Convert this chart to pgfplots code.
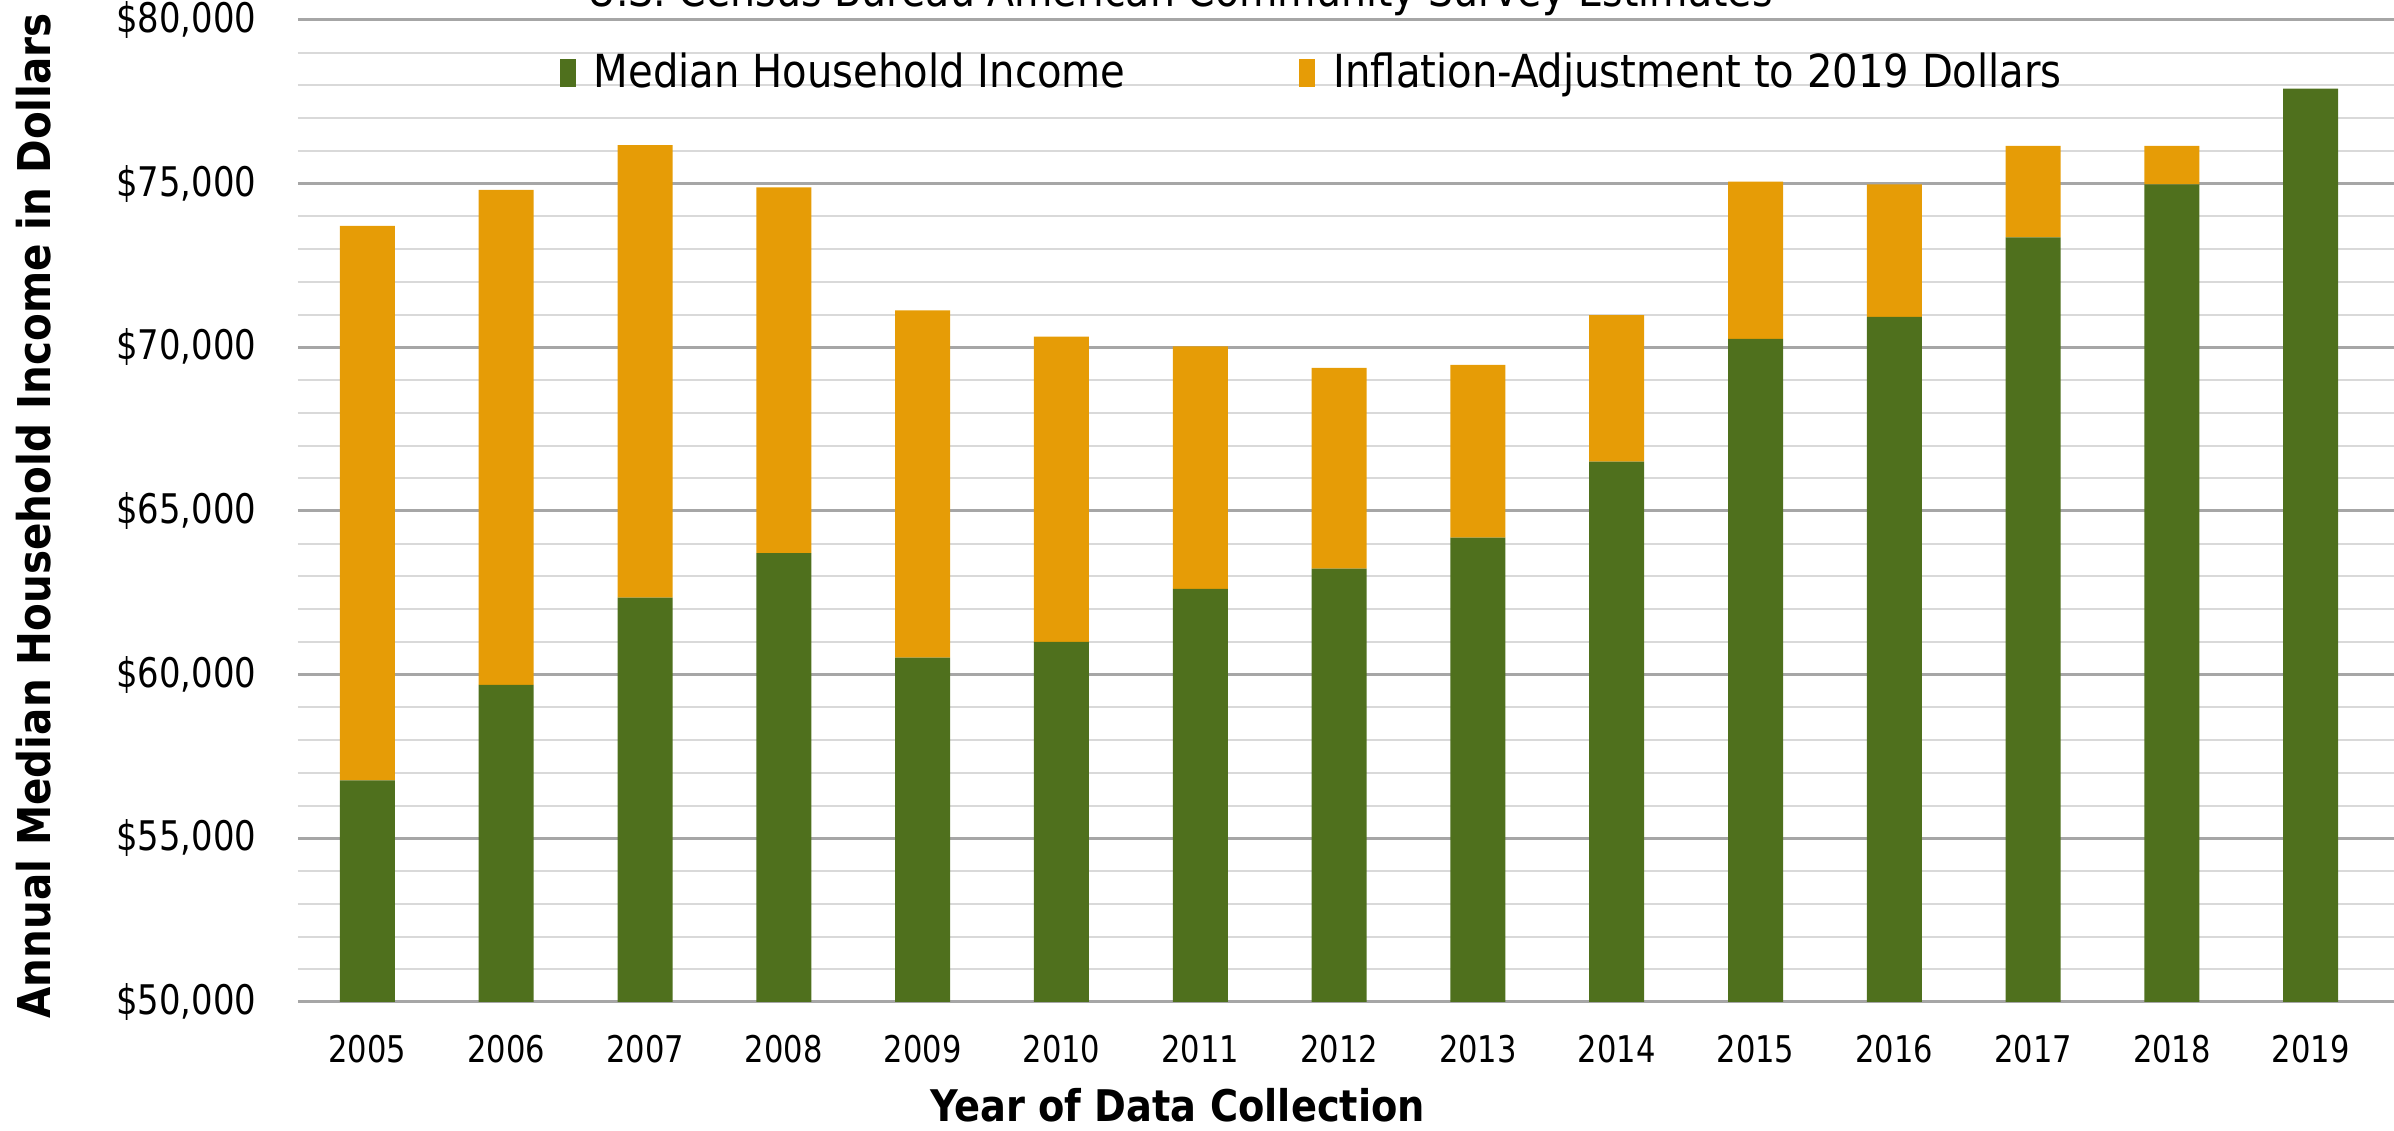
\documentclass[border=0pt]{standalone}
\usepackage{fontspec}
\setmainfont{DejaVu Sans}[FakeStretch=0.88]
\newfontfamily\ylabfont{DejaVu Sans}[FakeStretch=0.895]
\newfontfamily\tickfont{DejaVu Sans}[FakeStretch=0.83]
\usepackage{pgfplots}
\pgfplotsset{compat=1.18}
\definecolor{incgreen}{HTML}{4F701D}
\definecolor{infl}{HTML}{E69C06}
\definecolor{gmaj}{HTML}{A6A6A6}
\definecolor{gmin}{HTML}{D9D9D9}
\begin{document}
\begin{tikzpicture}
\begin{axis}[
  scale only axis,
  width=524pt, height=245.5pt,
  xmin=-0.5, xmax=14.6,
  ymin=50000, ymax=80000,
  ybar stacked,
  bar width=13.75pt,
  xtick={0,...,14},
  xticklabels={2005,2006,2007,2008,2009,2010,2011,2012,2013,2014,2015,2016,2017,2018,2019},
  ytick={50000,55000,60000,65000,70000,75000,80000},
  yticklabels={{\$50,000},{\$55,000},{\$60,000},{\$65,000},{\$70,000},{\$75,000},{\$80,000}},
  minor y tick num=4,
  ymajorgrids, yminorgrids,
  major grid style={color=gmaj, line width=0.75pt},
  minor grid style={color=gmin, line width=0.5pt},
  axis line style={draw=none},
  major tick length=0pt, minor tick length=0pt,
  yticklabel style={font=\fontsize{10.2}{12}\tickfont, anchor=east, inner sep=0pt, xshift=-10.25pt},
  xticklabel style={font=\fontsize{9.2}{11}\tickfont, anchor=center, inner sep=0pt, yshift=-11.75pt},
  xlabel={Year of Data Collection},
  ylabel={Annual Median Household Income in Dollars},
  every axis x label/.style={at={(axis description cs:0.4196,0)}, anchor=base, yshift=-30pt, font=\fontsize{10.9}{13}\selectfont\bfseries},
  every axis y label/.style={at={(axis description cs:-0.126,0.495)}, rotate=90, anchor=center, font=\fontsize{11.3}{13}\ylabfont\bfseries},
  legend image code/.code={\fill[#1,draw=none] (0pt,-3.5pt) rectangle (4pt,3.5pt);},
  legend columns=2,
  legend style={at={(axis description cs:0.1246,0.946)}, anchor=west, draw=none, fill=none, inner sep=0pt,
    font=\fontsize{11.4}{13}\selectfont,
    nodes={inner sep=4.5pt},
    /tikz/every even column/.append style={column sep=39pt}},
]
\addplot[fill=incgreen, draw=none] coordinates {
 (0,56770) (1,59690) (2,62350) (3,63715) (4,60520) (5,61000) (6,62620)
 (7,63240) (8,64190) (9,66510) (10,70260) (11,70930) (12,73360) (13,74980) (14,77905)};
\addlegendentry{Median Household Income}
\addplot[fill=infl, draw=none] coordinates {
 (0,16940) (1,15120) (2,13830) (3,11175) (4,10610) (5,9330) (6,7410)
 (7,6135) (8,5275) (9,4475) (10,4805) (11,4045) (12,2795) (13,1175)};
\addlegendentry{Inflation-Adjustment to 2019 Dollars}
\end{axis}
\node[anchor=base, font=\fontsize{11.2}{13}\selectfont] at (220.5pt,248.75pt) {U.S. Census Bureau American Community Survey Estimates};
\pgfresetboundingbox
\useasboundingbox (-74.5pt,-32.25pt) rectangle (524pt,250.5pt);
\end{tikzpicture}
\end{document}
